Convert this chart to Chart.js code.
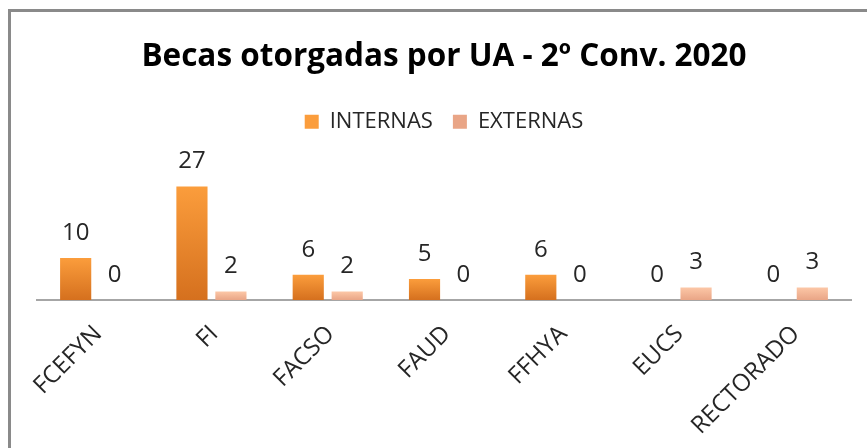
<!DOCTYPE html>
<html><head><meta charset="utf-8">
<script src="https://cdn.jsdelivr.net/npm/chart.js@4.4.0/dist/chart.umd.min.js"></script>
<style>
html,body{margin:0;padding:0;background:#fff;overflow:hidden;}
#frame{position:absolute;left:8px;top:9px;width:900px;height:500px;border-left:3px solid #8a8a8a;border-top:3px solid #8a8a8a;}
#wrap{position:absolute;left:0;top:0;width:867px;height:448px;}
</style></head><body>
<div id="frame"></div>
<div id="wrap"><canvas id="c" width="867" height="448"></canvas></div>
<script>
const categories = ['FCEFYN', 'FI', 'FACSO', 'FAUD', 'FFHYA', 'EUCS', 'RECTORADO'];
const internas = [10, 27, 6, 5, 6, 0, 0];
const externas = [0, 2, 2, 0, 0, 3, 3];
const seriesNames = ['INTERNAS', 'EXTERNAS'];
const titleText = 'Becas otorgadas por UA - 2º Conv. 2020';

const FONT = 'Open Sans';

function grad(top, bottom) {
  return (ctx) => {
    const chart = ctx.chart;
    const y = chart.scales && chart.scales.y;
    if (!y || ctx.type !== 'data') {
      if (chart.ctx && ctx.type !== 'data') {
        const g = chart.ctx.createLinearGradient(0, 112, 0, 128);
        g.addColorStop(0, top); g.addColorStop(1, bottom);
        return g;
      }
      return bottom;
    }
    const y0 = y.getPixelForValue(0), y1 = y.getPixelForValue(ctx.raw);
    if (!isFinite(y0) || !isFinite(y1) || y0 === y1) return bottom;
    const g = chart.ctx.createLinearGradient(0, y1, 0, y0);
    g.addColorStop(0, top); g.addColorStop(1, bottom);
    return g;
  };
}

const valueLabels = {
  id: 'valueLabels',
  afterDatasetsDraw(chart) {
    const ctx = chart.ctx;
    ctx.save();
    ctx.font = '24px "' + FONT + '"';
    ctx.fillStyle = '#262626';
    ctx.textAlign = 'center';
    ctx.textBaseline = 'middle';
    chart.data.datasets.forEach((ds, di) => {
      const meta = chart.getDatasetMeta(di);
      meta.data.forEach((el, i) => {
        ctx.fillText(String(ds.data[i]), el.x, el.y - 25);
      });
    });
    ctx.restore();
  }
};

new Chart(document.getElementById('c'), {
  type: 'bar',
  data: {
    labels: categories,
    datasets: [
      { label: seriesNames[0], data: internas, backgroundColor: grad('#FB9D3C', '#D5701E'), borderWidth: 0 },
      { label: seriesNames[1], data: externas, backgroundColor: grad('#FCC7A7', '#E9A586'), borderWidth: 0 }
    ]
  },
  options: {
    responsive: false,
    animation: false,
    devicePixelRatio: 1,
    categoryPercentage: 0.67,
    barPercentage: 0.8,
    layout: { padding: { left: 37, right: 16, top: 0, bottom: 8 } },
    plugins: {
      title: {
        display: true, text: titleText, color: '#000',
        font: { family: FONT, size: 31.5, weight: 'bold' },
        padding: { top: 38, bottom: 15 }
      },
      legend: {
        display: true,
        labels: {
          color: '#262626', font: { family: FONT, size: 22 },
          boxWidth: 14, boxHeight: 14, padding: 20
        }
      },
      tooltip: { enabled: false }
    },
    scales: {
      x: {
        grid: { display: false, drawTicks: false },
        border: { display: true, color: '#A6A6A6', width: 2 },
        ticks: {
          autoSkip: false, maxRotation: 45, minRotation: 45, labelOffset: 3,
          color: '#262626', font: { family: FONT, size: 24 }, padding: 20
        },
        afterFit(s) { s.paddingLeft = 0; s.paddingRight = 0; s.height = 140; }
      },
      y: { display: false, min: 0, max: 37.4 }
    }
  },
  plugins: [valueLabels]
});
</script>
</body></html>
